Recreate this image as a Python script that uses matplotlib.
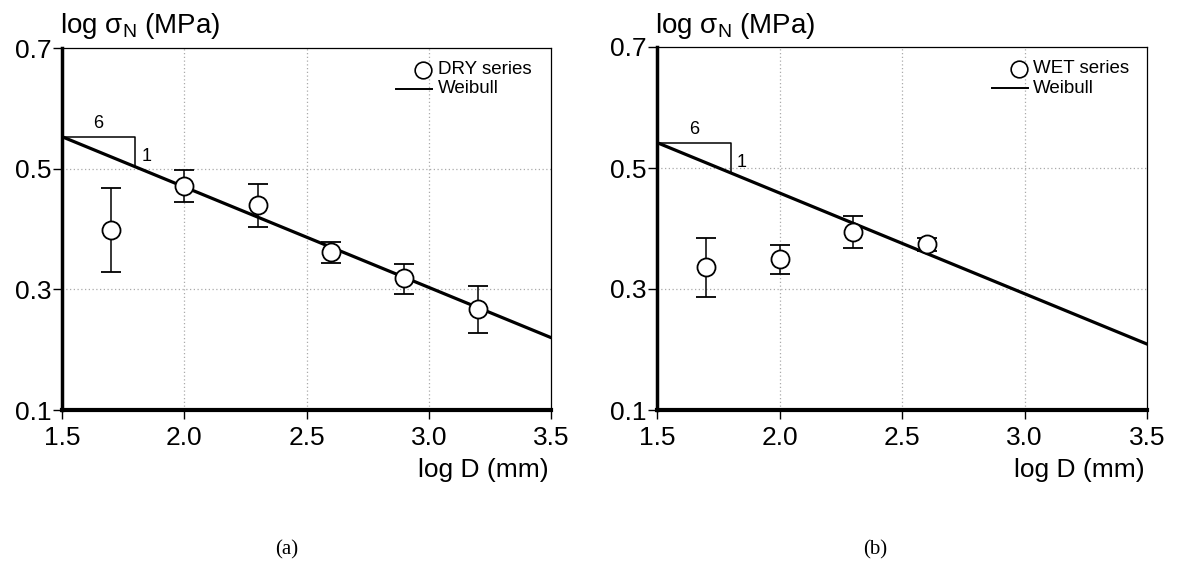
import matplotlib
matplotlib.use("Agg")
import matplotlib.pyplot as plt

plt.rcParams['font.family'] = ['Liberation Sans', 'DejaVu Sans']
plt.rcParams['mathtext.default'] = 'regular'

# log D (mm) of the specimens
dry_x = [1.7, 2.0, 2.3, 2.6, 2.9, 3.2]
dry_y = [0.398, 0.472, 0.439, 0.362, 0.318, 0.268]
dry_lo = [0.329, 0.444, 0.403, 0.344, 0.292, 0.228]
dry_hi = [0.468, 0.498, 0.474, 0.379, 0.342, 0.305]

wet_x = [1.7, 2.0, 2.3, 2.6]
wet_y = [0.336, 0.349, 0.395, 0.374]
wet_lo = [0.286, 0.324, 0.368, 0.363]
wet_hi = [0.384, 0.372, 0.421, 0.385]

# Weibull lines (slope -1/6)
weib_x = [1.5, 3.5]
dry_weib = [0.553, 0.220]
wet_weib = [0.542, 0.209]

W, H = 1180, 562
fig = plt.figure(figsize=(W / 100, H / 100), dpi=100)


def panel(rect, x, y, lo, hi, wy, name, tag, tag_x):
    ax = fig.add_axes(rect)
    ax.set_xlim(1.5, 3.5)
    ax.set_ylim(0.1, 0.7)
    ax.set_xticks([1.5, 2.0, 2.5, 3.0, 3.5])
    ax.set_yticks([0.1, 0.3, 0.5, 0.7])
    ax.set_xticklabels(["1.5", "2.0", "2.5", "3.0", "3.5"])
    ax.set_yticklabels(["0.1", "0.3", "0.5", "0.7"])
    ax.tick_params(labelsize=19, length=6.5, width=1, direction='out')
    ax.tick_params(axis='x', pad=5)
    ax.tick_params(axis='y', pad=1)
    for v in [2.0, 2.5, 3.0]:
        ax.axvline(v, color='#aaaaaa', lw=0.9, ls=(0, (1, 2)), zorder=0)
    for v in [0.3, 0.5]:
        ax.axhline(v, color='#aaaaaa', lw=0.9, ls=(0, (1, 2)), zorder=0)
    ax.spines['left'].set_linewidth(2.5)
    ax.spines['bottom'].set_linewidth(3)
    ax.spines['top'].set_linewidth(0.9)
    ax.spines['right'].set_linewidth(0.9)

    ax.plot(weib_x, wy, color='black', lw=2.3, zorder=2)
    yerr = [[a - b for a, b in zip(y, lo)], [b - a for a, b in zip(y, hi)]]
    ax.errorbar(x, y, yerr=yerr, fmt='o', ms=13, mfc='white', mec='black',
                mew=1.3, ecolor='black', elinewidth=1.1, capsize=7,
                capthick=1.1, zorder=3)

    # slope triangle 6:1
    x0, y0 = weib_x[0], wy[0]
    x1 = 1.8
    y1 = y0 - (x1 - x0) / 6
    ax.plot([x0, x1, x1], [y0, y0, y1], color='black', lw=1.1, zorder=2)
    ax.text((x0 + x1) / 2, y0 + 0.007, "6", ha='center', va='bottom', fontsize=13)
    ax.text(x1 + 0.025, y1 + 0.017, "1", ha='left', va='center', fontsize=13)

    # legend
    ax.plot([0.738], [0.94], 'o', ms=12, mfc='white', mec='black', mew=1.2,
            transform=ax.transAxes, clip_on=False)
    ax.text(0.768, 0.94, name, transform=ax.transAxes, ha='left', va='center',
            fontsize=13.5)
    ax.plot([0.683, 0.757], [0.887, 0.887], color='black', lw=1.4,
            transform=ax.transAxes)
    ax.text(0.768, 0.887, "Weibull", transform=ax.transAxes, ha='left',
            va='center', fontsize=13.5)

    l, b, w, h = rect
    fig.text(l - 0.002, 1 - 33 / H, r"log $\sigma_N$ (MPa)", fontsize=20,
             ha='left', va='baseline')
    fig.text(l + w - 0.002, 1 - 470 / H, "log D (mm)", fontsize=19, ha='right',
             va='center')
    fig.text(tag_x, 1 - 550 / H, tag, fontsize=15, ha='center', va='center',
             family='Liberation Serif')
    return ax


panel([62 / W, 1 - 410 / H, (551 - 62) / W, (410 - 48) / H],
      dry_x, dry_y, dry_lo, dry_hi, dry_weib, "DRY series", "(a)", 287 / W)
panel([657 / W, 1 - 410 / H, (1147 - 657) / W, (410 - 47) / H],
      wet_x, wet_y, wet_lo, wet_hi, wet_weib, "WET series", "(b)", 875 / W)

fig.savefig("out.png", dpi=100)
